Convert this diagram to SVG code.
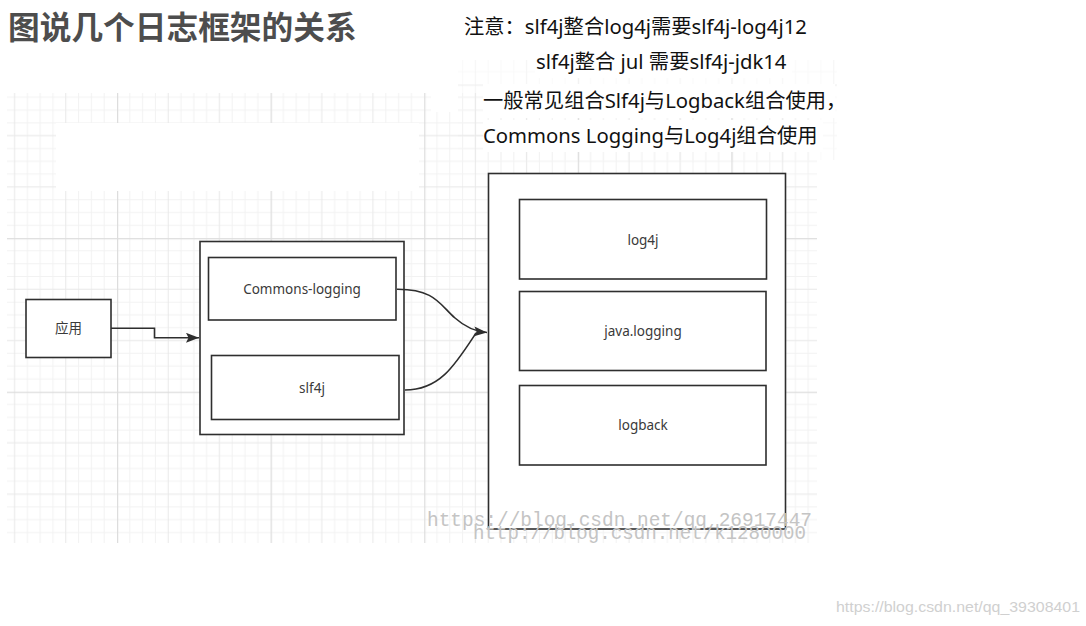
<svg xmlns="http://www.w3.org/2000/svg" width="1086" height="626" viewBox="0 0 1086 626">
  <style>
    .box { fill: #ffffff; stroke: #2e2e2e; stroke-width: 1.6; }
    .lbl { font-family: "Noto Sans", "Noto Sans CJK SC", sans-serif; font-size: 13.5px; fill: #3a3a3a; text-anchor: middle; }
    .note { font-family: "Noto Sans", "Noto Sans CJK SC", sans-serif; font-size: 20.3px; fill: #111111; }
    .conn { fill: none; stroke: #2e2e2e; stroke-width: 1.6; }
    .wm { font-family: "Liberation Mono", "DejaVu Sans Mono", monospace; font-size: 19.5px; fill: #c4c4c4; }
  </style>
  <defs>
    <pattern id="grid" patternUnits="userSpaceOnUse" x="117" y="84.5" width="153.6" height="153.6">
      <path d="M12.8 0V153.6M25.6 0V153.6M38.4 0V153.6M64 0V153.6M76.8 0V153.6M89.6 0V153.6M115.2 0V153.6M128 0V153.6M140.8 0V153.6M0 12.8H153.6M0 25.6H153.6M0 38.4H153.6M0 64H153.6M0 76.8H153.6M0 89.6H153.6M0 115.2H153.6M0 128H153.6M0 140.8H153.6" stroke="#f2f2f2" stroke-width="1" fill="none"/>
      <path d="M51.2 0V153.6M102.4 0V153.6M0 51.2H153.6M0 102.4H153.6" stroke="#e8e8e8" stroke-width="1" fill="none"/>
      <path d="M0.5 0V153.6M0 0.5H153.6" stroke="#dddddd" stroke-width="1.5" fill="none"/>
    </pattern>
    <marker id="arrow" markerUnits="userSpaceOnUse" markerWidth="16" markerHeight="12" refX="13" refY="5" orient="auto">
      <path d="M0,0 L13,5 L0,10 L2.5,5 z" fill="#2e2e2e"/>
    </marker>
  </defs>

  <rect width="1086" height="626" fill="#ffffff"/>

  <g id="background-grid">
    <rect x="7" y="93" width="810" height="450" fill="url(#grid)"/>
    <rect x="458" y="60" width="379" height="100" fill="url(#grid)" opacity="0.45"/>
    <rect x="56" y="123" width="363" height="68" fill="#ffffff"/>
    <rect x="431" y="93" width="27" height="19" fill="#ffffff"/>
    <rect x="535" y="45" width="257" height="33" fill="#ffffff"/>
    <rect x="483" y="84" width="352" height="34" fill="#ffffff"/>
    <rect x="483" y="120" width="340" height="32" fill="#ffffff"/>
  </g>

  <g id="title">
    <text x="8" y="39" font-family="Noto Sans CJK SC, sans-serif" font-size="31.7" font-weight="bold" fill="#4d4d4d">图说几个日志框架的关系</text>
  </g>

  <g id="notes">
    <text class="note" x="464" y="34">注意：slf4j整合log4j需要slf4j-log4j12</text>
    <text class="note" x="536" y="69">slf4j整合 jul 需要slf4j-jdk14</text>
    <text class="note" x="483" y="108">一般常见组合Slf4j与Logback组合使用，</text>
    <text class="note" x="483" y="143">Commons Logging与Log4j组合使用</text>
  </g>

  <g id="node-app">
    <rect class="box" x="26" y="299.5" width="85" height="58"/>
    <text class="lbl" x="68.5" y="333">应用</text>
  </g>

  <g id="node-facade">
    <rect class="box" x="200" y="241.5" width="204" height="193"/>
  </g>
  <g id="node-commons-logging">
    <rect class="box" x="208.5" y="257.5" width="187.5" height="62.5"/>
    <text class="lbl" x="302" y="294">Commons-logging</text>
  </g>
  <g id="node-slf4j">
    <rect class="box" x="211.5" y="355.5" width="187.5" height="64"/>
    <text class="lbl" x="312" y="393">slf4j</text>
  </g>

  <g id="node-impl">
    <rect class="box" x="488.5" y="173.5" width="297" height="355.5"/>
  </g>
  <g id="node-log4j">
    <rect class="box" x="519.5" y="199.5" width="247" height="79.5"/>
    <text class="lbl" x="643" y="245">log4j</text>
  </g>
  <g id="node-java-logging">
    <rect class="box" x="519.5" y="291.5" width="246.5" height="79"/>
    <text class="lbl" x="643" y="336">java.logging</text>
  </g>
  <g id="node-logback">
    <rect class="box" x="519.5" y="385.5" width="246.5" height="79.5"/>
    <text class="lbl" x="643" y="430">logback</text>
  </g>

  <g id="connectors">
    <path class="conn" d="M111 328.3 H154.5 V337.8 H199" marker-end="url(#arrow)"/>
    <path class="conn" d="M397 289.3 C435 289, 440 305, 455 318 C465 327, 475 331.5, 487 332.5" marker-end="url(#arrow)"/>
    <path class="conn" d="M405 390 C440 390, 455 365, 476 333"/>
  </g>

  <g id="watermarks">
    <text class="wm" x="427" y="526" textLength="385" lengthAdjust="spacingAndGlyphs">https://blog.csdn.net/qq_26917447</text>
    <text class="wm" x="473" y="539" textLength="333" lengthAdjust="spacingAndGlyphs">http://blog.csdn.net/k1280000</text>
    <text x="836" y="612" font-family="Liberation Sans, sans-serif" font-size="15" fill="#d0d0d0" textLength="244" lengthAdjust="spacingAndGlyphs">https://blog.csdn.net/qq_39308401</text>
  </g>
</svg>
